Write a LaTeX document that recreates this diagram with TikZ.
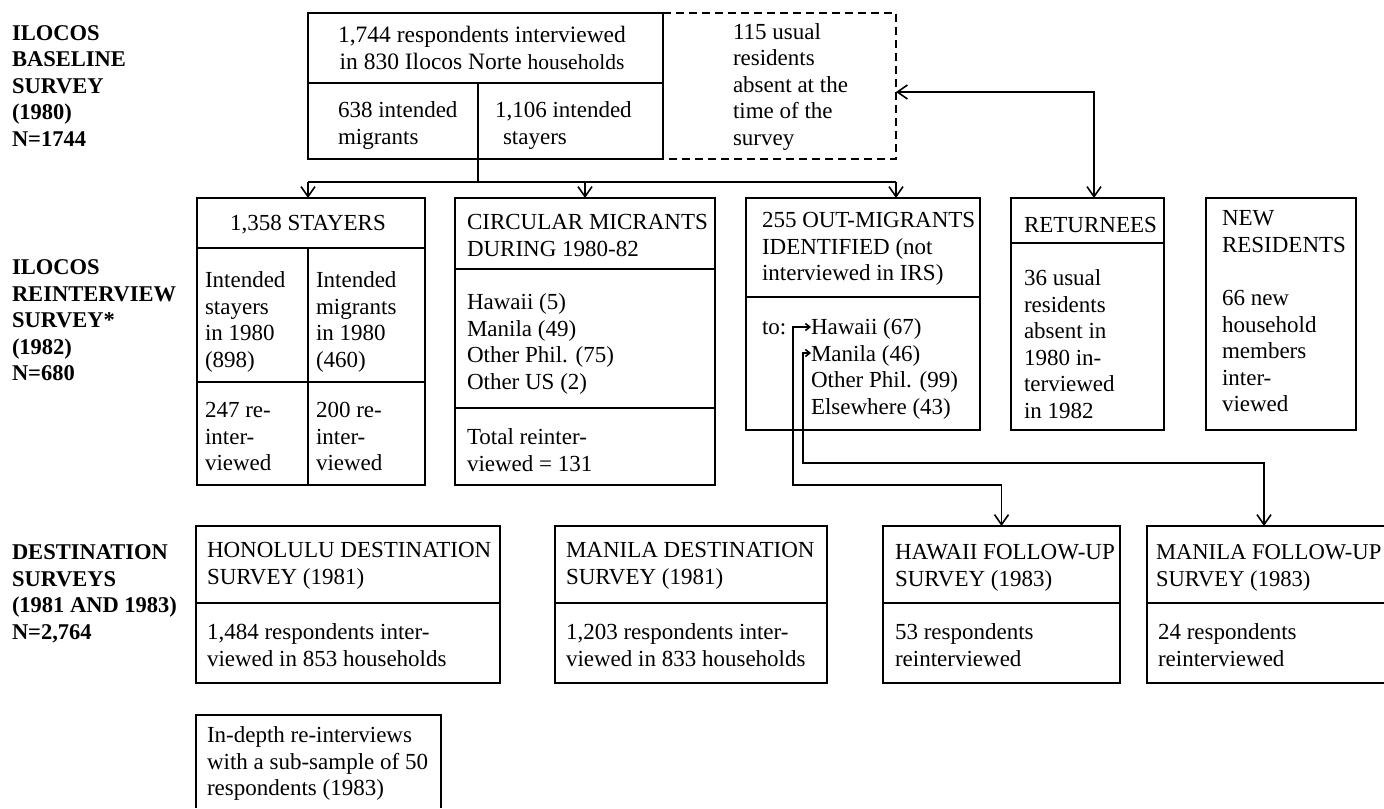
\documentclass[tikz,border=0pt]{standalone}
\usepackage{fontspec}
\setmainfont{Liberation Serif}
\usetikzlibrary{arrows.meta}
\newcommand\fst{\rule{0pt}{8pt}}
\begin{document}
\begin{tikzpicture}[x=0.5pt,y=-0.5pt,
  line width=0.8pt,
  box/.style={draw,line width=0.8pt,inner sep=0pt,outer sep=0pt,anchor=north west},
  tx/.style={anchor=north west,inner sep=0pt,outer sep=0pt,align=left,font=\fontsize{11.5pt}{13.25pt}\selectfont},
  txc/.style={tx,anchor=north,align=center},
  lab/.style={tx,font=\fontsize{11.25pt}{13.25pt}\selectfont\bfseries},
  arr/.style={-{Straight Barb[length=5pt,width=7pt]}},
  dbl/.style={{Straight Barb[length=5pt,width=7pt]}-{Straight Barb[length=5pt,width=7pt]}},
  hook/.style={{Straight Barb[length=2.2pt,width=3.5pt]}-{Straight Barb[length=5pt,width=7pt]}},
  dashbox/.style={dash pattern=on 4pt off 2.5pt}]
\useasboundingbox (0,0) rectangle (1384,808);
\fill[white] (0,0) rectangle (1384,808);

% row labels
\node[lab] (labA) at (12,24.5) {\fst ILOCOS\\BASELINE\\SURVEY\\(1980)\\N=1744};
\node[lab] (labB) at (12,258.5) {\fst ILOCOS\\REINTERVIEW\\SURVEY*\\(1982)\\N=680};
\node[lab] (labC) at (12,543.5) {\fst DESTINATION\\SURVEYS\\(1981 AND 1983)\\N=2,764};

% baseline box
\node[box,minimum width=177.5pt,minimum height=73pt] (top) at (308,13) {};
\draw (308,83) -- (663,83);
\draw (478,83) -- (478,159);
\draw[dashbox] (663,13) -- (896,13) -- (896,159) -- (663,159);
\node[txc,font=\fontsize{11.75pt}{13.25pt}\selectfont] (t1) at (482,26.5) {\fst 1,744 respondents interviewed\\in 830 Ilocos Norte {\fontsize{10.75pt}{13.25pt}\selectfont households}};
\node[tx] (t2) at (338,101.5) {\fst 638 intended\\migrants};
\node[tx] (t3) at (495,101.5) {\fst 1,106 intended\\\hspace*{4pt}stayers};
\node[tx] (t4) at (733,23.5) {\fst 115 usual\\residents\\absent at the\\time of the\\survey};

% row 2 boxes
\node[box,minimum width=114pt,minimum height=143.5pt] (stay) at (197,198) {};
\draw (197,248) -- (425,248);
\draw (308,248) -- (308,485);
\draw (197,382) -- (425,382);
\node[tx] (s0) at (230,214.5) {\fst 1,358 STAYERS};
\node[tx] (s1) at (205,271.5) {\fst Intended\\stayers\\in 1980\\(898)};
\node[tx] (s2) at (316,271.5) {\fst Intended\\migrants\\in 1980\\(460)};
\node[tx] (s3) at (205,401.5) {\fst 247 re-\\inter-\\viewed};
\node[tx] (s4) at (316,401.5) {\fst 200 re-\\inter-\\viewed};

\node[box,minimum width=130pt,minimum height=143.5pt] (circ) at (455,198) {};
\draw (455,269) -- (715,269);
\draw (455,408) -- (715,408);
\node[tx] (c1) at (467,213.5) {\fst CIRCULAR MICRANTS\\DURING 1980-82};
\node[tx] (c2) at (467,293.5) {\fst Hawaii (5)\\Manila (49)\\Other Phil. (75)\\Other US (2)};
\node[tx] (c3) at (467,428.5) {\fst Total reinter-\\viewed = 131};

\node[box,minimum width=117pt,minimum height=116pt] (out) at (746,198) {};
\draw (746,297) -- (980,297);
\node[tx] (o1) at (762,211.5) {\fst 255 OUT-MIGRANTS\\IDENTIFIED (not\\interviewed in IRS)};
\node[tx] (o2) at (762,318.5) {\fst to:};
\node[tx] (o3) at (811,318.5) {\fst Hawaii (67)\\Manila (46)\\Other Phil. (99)\\Elsewhere (43)};

\node[box,minimum width=76.5pt,minimum height=116pt] (ret) at (1011,198) {};
\draw (1011,243) -- (1164,243);
\node[tx] (r1) at (1024,216.5) {\fst RETURNEES};
\node[tx] (r2) at (1024,269.5) {\fst 36 usual\\residents\\absent in\\1980 in-\\terviewed\\in 1982};

\node[box,minimum width=75pt,minimum height=116pt] (newr) at (1206,198) {};
\node[tx] (n1) at (1222,209.5) {\fst NEW\\RESIDENTS};
\node[tx] (n2) at (1222,289.5) {\fst 66 new\\household\\members\\inter-\\viewed};

% row 3 boxes
\node[box,minimum width=152pt,minimum height=78.5pt] (hon) at (196,526) {};
\draw (196,603) -- (500,603);
\node[tx] (h1) at (207,541.5) {\fst HONOLULU DESTINATION\\SURVEY (1981)};
\node[tx] (h2) at (207,623.5) {\fst 1,484 respondents inter-\\viewed in 853 households};

\node[box,minimum width=136pt,minimum height=78.5pt] (mdest) at (555,526) {};
\draw (555,603) -- (827,603);
\node[tx] (m1) at (566,541.5) {\fst MANILA DESTINATION\\SURVEY (1981)};
\node[tx] (m2) at (566,623.5) {\fst 1,203 respondents inter-\\viewed in 833 households};

\node[box,minimum width=118.5pt,minimum height=78.5pt] (hfu) at (883,526) {};
\draw (883,603) -- (1120,603);
\node[tx] (f1) at (895,543.5) {\fst HAWAII FOLLOW-UP\\SURVEY (1983)};
\node[tx] (f2) at (895,623.5) {\fst 53 respondents\\reinterviewed};

\draw (1384,526) -- (1147,526) -- (1147,683) -- (1384,683);
\draw (1147,603) -- (1384,603);
\node[tx,font=\fontsize{11.3pt}{13.25pt}\selectfont] (g1) at (1156,543.5) {\fst MANILA FOLLOW-UP\\SURVEY (1983)};
\node[tx] (g2) at (1158,623.5) {\fst 24 respondents\\reinterviewed};

\draw (196,808) -- (196,715) -- (441,715) -- (441,808);
\node[tx] (d1) at (207,726.5) {\fst In-depth re-interviews\\with a sub-sample of 50\\respondents (1983)};

% connectors
\coordinate (split) at (478,159);
\coordinate (busL) at (308,182);
\coordinate (busR) at (896,182);
\draw (split) -- (split |- busL);
\draw (busL) -- (busR);
\draw[arr] (busL) -- (busL |- stay.north);
\draw[arr] (circ.north |- busL) -- (circ.north);
\draw[arr] (busR) -- (busR |- out.north);

\coordinate (absent) at (896,92);
\coordinate (retTop) at (1094,198);
\draw[dbl] (absent) -| (retTop);

\coordinate (hwTip) at (811,327);
\coordinate (mnTip) at (811,353);
\coordinate (mfuTop) at (1264,526);
\draw[hook] (hwTip) -- (793,327) -- (793,485) -| (hfu.north);
\draw[hook] (mnTip) -- (803,353) -- (803,463) -| (mfuTop);
\end{tikzpicture}
\end{document}
